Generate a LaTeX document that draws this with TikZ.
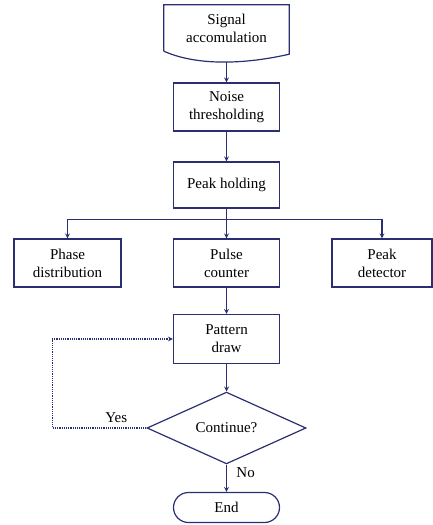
\documentclass[tikz,border=0pt]{standalone}
\usepackage{fontspec}
\setmainfont{Liberation Serif}
\usepackage{xcolor}
\usepackage{tikz}
\usetikzlibrary{shapes.geometric, arrows}

\definecolor{navy}{RGB}{43,46,112}

\begin{document}
\begin{tikzpicture}[
        x=1pt, y=-1pt,
        node distance=78pt,
        font=\fontsize{15}{18}\selectfont,
        docbox/.style={rectangle, minimum width=125pt, minimum height=46pt, align=center},
        process/.style={rectangle, minimum width=106pt, minimum height=48pt, align=center, draw=navy, line width=1.2pt},
        decision/.style={diamond, minimum width=159pt, minimum height=71pt, inner sep=0pt, align=center, draw=navy, line width=1.2pt},
        startstop/.style={rectangle, rounded corners=15pt, minimum width=106pt, minimum height=30pt, align=center, draw=navy, line width=1.2pt},
        arrow/.style={line width=1.2pt, draw=navy, ->, >=stealth},
        dotarrow/.style={line width=1.2pt, draw=navy, densely dotted, ->, >=stealth}
        ]
        \useasboundingbox (0,0) rectangle (433,525);

        \node (signal) [docbox] at (226.5,28) {Signal\\accomulation};
        \node (noise) [process, below of=signal, yshift=-1pt] {Noise\\thresholding};
        \node (peak) [process, below of=noise, minimum height=46pt] {Peak holding};
        \node (pulse) [process, below of=peak] {Pulse\\counter};
        \node (phase) [process, left of=pulse, node distance=159pt, minimum width=107pt] {Phase\\distribution};
        \node (detector) [process, right of=pulse, node distance=155.5pt, minimum width=100pt] {Peak\\detector};
        \node (pattern) [process, below of=pulse, yshift=2pt, minimum height=49pt] {Pattern\\draw};
        \node (decide) [decision, below of=pattern, yshift=-11pt] {Continue?};
        \node (stop) [startstop, below of=decide, yshift=-1.5pt] {End};

        % document shape with wavy bottom
        \draw [navy, line width=1.2pt] (signal.south west) -- (signal.north west) -- (signal.north east)
            -- ([yshift=-3pt]signal.south east)
            .. controls +(-39,9) and +(36,16) .. (signal.south west);
        \path (signal.south) ++(0,11) coordinate (sigwave);

        \draw [arrow] (sigwave) -- (noise);
        \draw [arrow] (noise) -- (peak);
        \draw [arrow] (peak) -- (pulse);
        \draw [arrow] (peak.south) -- ++(0,11) -| (phase.north);
        \draw [arrow] (peak.south) -- ++(0,11) -| (detector.north);
        \draw [arrow] (pulse) -- (pattern);
        \draw [arrow] (pattern) -- (decide);
        \draw [arrow] (decide) -- node[pos=0.3, anchor=west, xshift=6pt] {No} (stop);
        \draw [dotarrow] (decide.west) -- node[pos=0.32, above, yshift=1pt] {Yes} ++(-94,0) |- (pattern.west);

    \end{tikzpicture}
\end{document}
